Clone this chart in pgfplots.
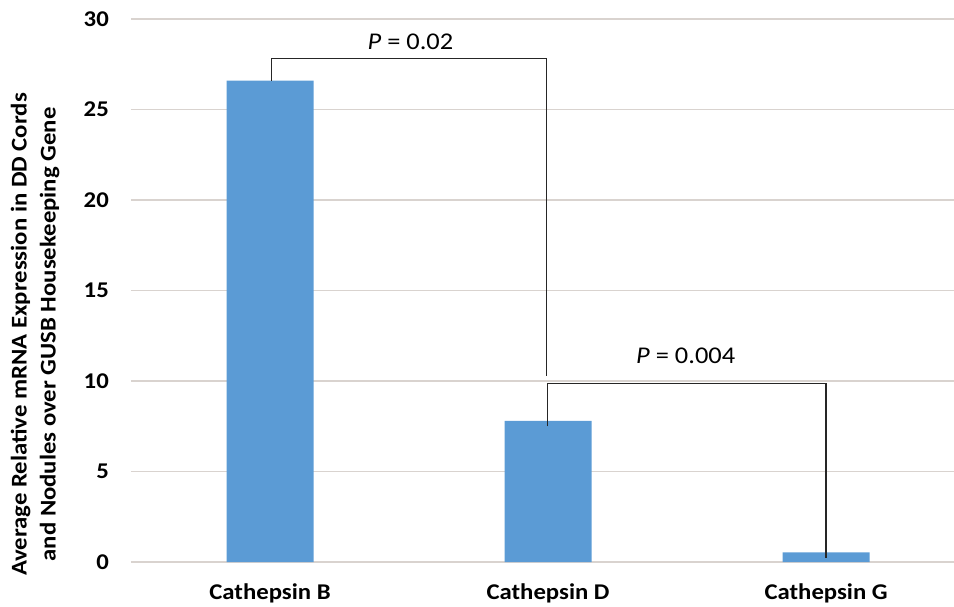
\documentclass[border=0pt]{standalone}
\usepackage{pgfplots}
\pgfplotsset{compat=1.18}
\usepackage{fontspec}
\setmainfont{Carlito}
\newfontfamily\wide{Carlito}[FakeStretch=1.1]
\definecolor{barblue}{HTML}{5B9BD5}
\definecolor{gridc}{HTML}{D9D3CF}
\begin{document}
\begin{tikzpicture}
\begin{axis}[
  name=ax,
  scale only axis,
  width=823pt, height=543pt,
  xmin=-0.5, xmax=2.46,
  ymin=0, ymax=30,
  ytick={0,5,...,30},
  xtick={0,1,2},
  xticklabels={Cathepsin B, Cathepsin D, Cathepsin G},
  axis line style={draw=none},
  major tick length=0pt,
  ymajorgrids,
  grid style={gridc, line width=1.3pt},
  /pgf/number format/assume math mode=true,
  yticklabel style={font=\wide\fontsize{22.5}{26}\selectfont\bfseries, inner sep=0pt, anchor=east, xshift=-22pt},
  xticklabel style={font=\wide\fontsize{22.5}{26}\selectfont\bfseries, inner sep=0pt, anchor=base, yshift=-37pt},
  ylabel={Average Relative mRNA Expression in DD Cords\\and Nodules over GUSB Housekeeping Gene},
  ylabel style={font=\wide\fontsize{22.5}{29}\selectfont\bfseries, align=center, inner sep=0pt, at={(axis description cs:-0.1166,0.419)}, anchor=center},
  clip=false,
]
\addplot[ybar, bar width=87pt, fill=barblue, draw=none] coordinates {(0,26.6) (1,7.8) (2,0.53)};
\addplot[black!85, line width=1.3pt] coordinates {(0.005,26.6) (0.005,27.8) (0.995,27.8) (0.995,10.3)};
\addplot[black!85, line width=1.3pt] coordinates {(0.998,7.5) (0.998,9.87) (2.0,9.87) (2.0,0.2)};
\node[anchor=base, font=\wide\fontsize{24}{28}\selectfont] at (axis cs:0.505,28.29) {\textit{P} = 0.02};
\node[anchor=base, font=\wide\fontsize{24}{28}\selectfont] at (axis cs:1.495,10.98) {\textit{P} = 0.004};
\end{axis}
\pgfresetboundingbox
\path ([xshift=-131pt,yshift=-44pt]ax.south west) rectangle ([yshift=19pt]ax.north east);
\end{tikzpicture}
\end{document}
